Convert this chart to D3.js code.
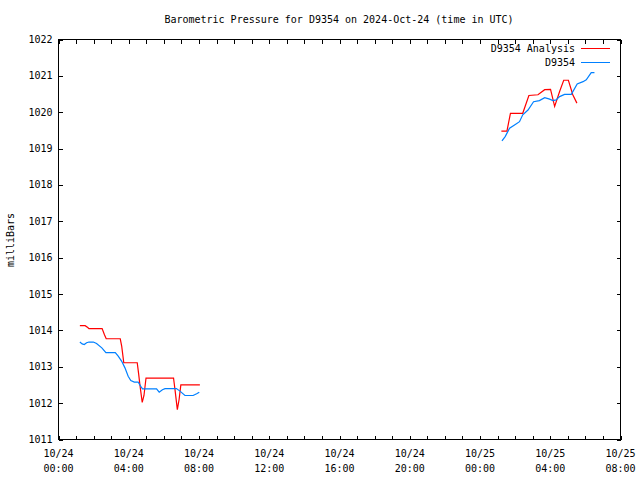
<!DOCTYPE html>
<html><head><meta charset="utf-8">
<script src="https://cdn.jsdelivr.net/npm/d3@7"></script>
<style>
html,body{margin:0;padding:0;background:#fff;}
text{font-family:"DejaVu Sans Mono",monospace;font-size:10px;fill:#000;}
</style></head>
<body>
<svg id="chart" width="640" height="480"></svg>
<script>
const title = "Barometric Pressure for D9354 on 2024-Oct-24 (time in UTC)";
const yLabel = "milliBars";
const seriesNames = ["D9354 Analysis", "D9354"];
const seriesColors = ["#ff0000", "#0080ff"];
const xDomain = ["2024-10-24T00:00", "2024-10-25T08:00"];
const yDomain = [1011, 1022];
const yTicks = [1011,1012,1013,1014,1015,1016,1017,1018,1019,1020,1021,1022];

// Analysis (red) — null separates gap
const analysisTimes = [
 "2024-10-24T01:13","2024-10-24T01:31","2024-10-24T01:40","2024-10-24T01:44","2024-10-24T02:29",
 "2024-10-24T02:37","2024-10-24T02:43","2024-10-24T03:31","2024-10-24T03:36","2024-10-24T03:43",
 "2024-10-24T04:29","2024-10-24T04:34","2024-10-24T04:38","2024-10-24T04:46","2024-10-24T04:52",
 "2024-10-24T04:59","2024-10-24T06:33","2024-10-24T06:38","2024-10-24T06:46","2024-10-24T06:52",
 "2024-10-24T06:58","2024-10-24T08:03",
 "2024-10-24T16:00",
 "2024-10-25T01:13","2024-10-25T01:32","2024-10-25T01:44","2024-10-25T02:26","2024-10-25T02:47",
 "2024-10-25T03:18","2024-10-25T03:41","2024-10-25T04:01","2024-10-25T04:15","2024-10-25T04:32",
 "2024-10-25T04:46","2024-10-25T05:02","2024-10-25T05:17","2024-10-25T05:31"
];
const analysisValues = [
 1014.13,1014.13,1014.08,1014.05,1014.05,
 1013.88,1013.77,1013.77,1013.56,1013.11,
 1013.11,1012.79,1012.51,1012.02,1012.21,
 1012.69,1012.69,1012.37,1011.82,1012.10,
 1012.50,1012.50,
 null,
 1019.48,1019.48,1019.97,1019.97,1020.46,
 1020.48,1020.62,1020.63,1020.16,1020.57,
 1020.88,1020.88,1020.48,1020.25
];

// Observed (blue)
const obsTimes = [
 "2024-10-24T01:13","2024-10-24T01:21","2024-10-24T01:28","2024-10-24T01:36","2024-10-24T01:44",
 "2024-10-24T01:59","2024-10-24T02:10","2024-10-24T02:28","2024-10-24T02:42","2024-10-24T03:14",
 "2024-10-24T03:24","2024-10-24T03:36","2024-10-24T03:47","2024-10-24T03:58","2024-10-24T04:07",
 "2024-10-24T04:19","2024-10-24T04:32","2024-10-24T04:41","2024-10-24T04:47","2024-10-24T05:35",
 "2024-10-24T05:44","2024-10-24T05:55","2024-10-24T06:04","2024-10-24T06:43","2024-10-24T06:55",
 "2024-10-24T07:12","2024-10-24T07:40","2024-10-24T07:52","2024-10-24T08:01",
 "2024-10-24T16:00",
 "2024-10-25T01:15","2024-10-25T01:26","2024-10-25T01:41","2024-10-25T01:58","2024-10-25T02:15",
 "2024-10-25T02:26","2024-10-25T02:44","2024-10-25T03:03","2024-10-25T03:23","2024-10-25T03:41",
 "2024-10-25T03:58","2024-10-25T04:09","2024-10-25T04:20","2024-10-25T04:32","2024-10-25T04:49",
 "2024-10-25T05:12","2024-10-25T05:32","2024-10-25T05:52","2024-10-25T06:03","2024-10-25T06:20",
 "2024-10-25T06:31"
];
const obsValues = [
 1013.68,1013.63,1013.61,1013.66,1013.68,
 1013.68,1013.64,1013.52,1013.39,1013.39,
 1013.29,1013.15,1012.97,1012.74,1012.62,
 1012.58,1012.58,1012.46,1012.39,1012.39,
 1012.30,1012.37,1012.40,1012.40,1012.33,
 1012.21,1012.21,1012.26,1012.30,
 null,
 1019.21,1019.33,1019.56,1019.65,1019.74,
 1019.93,1020.06,1020.29,1020.32,1020.40,
 1020.36,1020.32,1020.34,1020.43,1020.49,
 1020.49,1020.78,1020.84,1020.89,1021.09,
 1021.09
];

const parse = d3.utcParse("%Y-%m-%dT%H:%M");
const svg = d3.select("#chart");
const L = 58.5, R = 620.5, T = 39.5, B = 439.5;
const x = d3.scaleUtc().domain(xDomain.map(parse)).range([L, R]);
const y = d3.scaleLinear().domain(yDomain).range([B, T]);

// tick marks (inward, mirrored)
const hourTicks = x.ticks(d3.utcHour.every(1));
const labelTicks = x.ticks(d3.utcHour.every(4));
const tickLen = 4;
const g = svg.append("g").attr("shape-rendering","crispEdges").attr("stroke","#000");
g.append("g").call(d3.axisBottom(x).tickValues(hourTicks).tickSize(-tickLen).tickFormat(""))
  .attr("transform",`translate(0,${B})`).call(s=>s.select(".domain").remove());
g.append("g").call(d3.axisTop(x).tickValues(hourTicks).tickSize(-tickLen).tickFormat(""))
  .attr("transform",`translate(0,${T})`).call(s=>s.select(".domain").remove());
g.append("g").call(d3.axisLeft(y).tickValues(yTicks).tickSize(-tickLen).tickFormat(""))
  .attr("transform",`translate(${L},0)`).call(s=>s.select(".domain").remove());
g.append("g").call(d3.axisRight(y).tickValues(yTicks).tickSize(-tickLen).tickFormat(""))
  .attr("transform",`translate(${R},0)`).call(s=>s.select(".domain").remove());
svg.selectAll(".tick line").attr("stroke","#000");

// border
svg.append("rect").attr("x",L).attr("y",T).attr("width",R-L).attr("height",B-T)
  .attr("fill","none").attr("stroke","#000").attr("shape-rendering","crispEdges");

// y tick labels
svg.append("g").selectAll("text").data(yTicks).join("text")
  .attr("x", L-6).attr("y", d=>y(d)).attr("dy","0.35em").attr("text-anchor","end")
  .text(d=>d3.format("d")(d));

// x tick labels
const fmtDate = d3.utcFormat("%m/%d"), fmtTime = d3.utcFormat("%H:%M");
const xl = svg.append("g").selectAll("g").data(labelTicks).join("g");
xl.append("text").attr("x",d=>x(d)).attr("y",457).attr("text-anchor","middle").text(fmtDate);
xl.append("text").attr("x",d=>x(d)).attr("y",472).attr("text-anchor","middle").text(fmtTime);

// title and y label
svg.append("text").attr("x",339).attr("y",23).attr("text-anchor","middle").text(title);
svg.append("text").attr("transform","translate(14,240) rotate(-90)").attr("text-anchor","middle").text(yLabel);

// lines
const line = d3.line().defined(d=>d[1]!=null).x(d=>x(d[0])).y(d=>y(d[1]));
const analysis = analysisTimes.map((t,i)=>[parse(t), analysisValues[i]]);
const obs = obsTimes.map((t,i)=>[parse(t), obsValues[i]]);
svg.append("path").datum(analysis).attr("d",line).attr("fill","none")
  .attr("stroke",seriesColors[0]).attr("stroke-width",1.2);
svg.append("path").datum(obs).attr("d",line).attr("fill","none")
  .attr("stroke",seriesColors[1]).attr("stroke-width",1.2);

// legend
const legY = [48, 62];
seriesNames.forEach((n,i)=>{
  svg.append("text").attr("x",575).attr("y",legY[i]).attr("dy","0.35em").attr("text-anchor","end").text(n);
  svg.append("line").attr("x1",581).attr("x2",610).attr("y1",legY[i]+0.5).attr("y2",legY[i]+0.5)
    .attr("stroke",seriesColors[i]).attr("stroke-width",1).attr("shape-rendering","crispEdges");
});
</script>
</body></html>
